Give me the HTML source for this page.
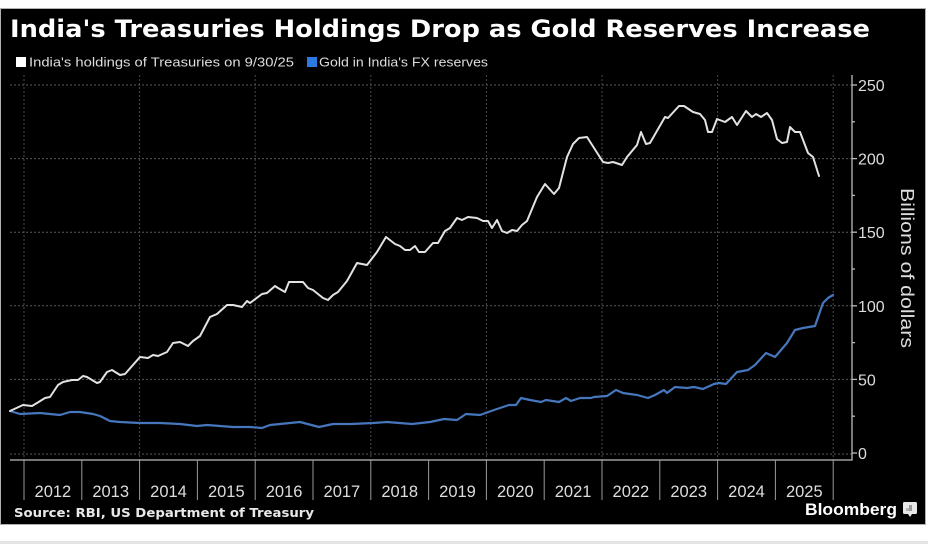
<!DOCTYPE html>
<html>
<head>
<meta charset="utf-8">
<style>
html,body{margin:0;padding:0;background:#fff;}
svg{display:block;}
</style>
</head>
<body>
<svg width="945" height="544" viewBox="0 0 945 544" xmlns="http://www.w3.org/2000/svg">
  <rect x="0" y="0" width="945" height="544" fill="#ffffff"/>
  <rect x="0" y="8" width="926" height="517" fill="#b0b0b0"/>
  <rect x="1" y="9" width="924" height="515" fill="#000000"/>
  <rect x="0" y="541" width="928" height="3" fill="#e4e4e4"/>

  <!-- Title -->
  <text x="10" y="37" fill="#ffffff" font-family="'DejaVu Sans','Liberation Sans',sans-serif" font-weight="bold" font-size="24" textLength="860" lengthAdjust="spacingAndGlyphs">India's Treasuries Holdings Drop as Gold Reserves Increase</text>

  <!-- Legend -->
  <rect x="16" y="57" width="10" height="10" fill="#ffffff"/>
  <text x="29" y="66.5" fill="#dddddd" font-family="'Liberation Sans',sans-serif" font-size="13" textLength="265" lengthAdjust="spacingAndGlyphs">India's holdings of Treasuries on 9/30/25</text>
  <rect x="307" y="57" width="10" height="10" fill="#2a7ae2"/>
  <text x="319" y="66.5" fill="#dddddd" font-family="'Liberation Sans',sans-serif" font-size="13" textLength="169" lengthAdjust="spacingAndGlyphs">Gold in India's FX reserves</text>

  <!-- Horizontal dotted grid -->
  <g stroke="#5a5a5a" stroke-width="1" stroke-dasharray="2,2">
    <line x1="10" y1="85" x2="852" y2="85"/>
    <line x1="10" y1="158.6" x2="852" y2="158.6"/>
    <line x1="10" y1="232.2" x2="852" y2="232.2"/>
    <line x1="10" y1="305.8" x2="852" y2="305.8"/>
    <line x1="10" y1="379.4" x2="852" y2="379.4"/>
    <line x1="10" y1="454" x2="852" y2="454"/>
  </g>
  <!-- Vertical dotted grid -->
  <g stroke="#4a4a4a" stroke-width="1" stroke-dasharray="2,2">
    <line x1="24" y1="75" x2="24" y2="460"/>
    <line x1="139.6" y1="75" x2="139.6" y2="460"/>
    <line x1="255.2" y1="75" x2="255.2" y2="460"/>
    <line x1="370.8" y1="75" x2="370.8" y2="460"/>
    <line x1="486.4" y1="75" x2="486.4" y2="460"/>
    <line x1="602" y1="75" x2="602" y2="460"/>
    <line x1="717.6" y1="75" x2="717.6" y2="460"/>
    <line x1="833.2" y1="75" x2="833.2" y2="460"/>
  </g>

  <!-- Axes -->
  <line x1="852" y1="75" x2="852" y2="460.5" stroke="#bbbbbb" stroke-width="1.3"/>
  <line x1="10" y1="460" x2="852.5" y2="460" stroke="#bbbbbb" stroke-width="1.3"/>
  <!-- Right axis ticks -->
  <g stroke="#bbbbbb" stroke-width="1.3">
    <line x1="852" y1="85" x2="857" y2="85"/>
    <line x1="852" y1="158.6" x2="857" y2="158.6"/>
    <line x1="852" y1="232.2" x2="857" y2="232.2"/>
    <line x1="852" y1="305.8" x2="857" y2="305.8"/>
    <line x1="852" y1="379.4" x2="857" y2="379.4"/>
    <line x1="852" y1="453" x2="857" y2="453"/>
    <line x1="852" y1="121.8" x2="855" y2="121.8"/>
    <line x1="852" y1="195.4" x2="855" y2="195.4"/>
    <line x1="852" y1="269" x2="855" y2="269"/>
    <line x1="852" y1="342.6" x2="855" y2="342.6"/>
    <line x1="852" y1="416.2" x2="855" y2="416.2"/>
  </g>
  <g fill="#dddddd" font-family="'Liberation Sans',sans-serif" font-size="16">
    <text x="858" y="91">250</text>
    <text x="858" y="164.6">200</text>
    <text x="858" y="238.2">150</text>
    <text x="858" y="311.8">100</text>
    <text x="858" y="385.4">50</text>
    <text x="858" y="459">0</text>
  </g>
  <text transform="translate(901,188) rotate(90)" fill="#dddddd" font-family="'Liberation Sans',sans-serif" font-size="18" textLength="160" lengthAdjust="spacingAndGlyphs">Billions of dollars</text>

  <!-- Year separators -->
  <g stroke="#9a9a9a" stroke-width="1">
    <line x1="24" y1="460" x2="24" y2="500"/>
    <line x1="81.8" y1="460" x2="81.8" y2="500"/>
    <line x1="139.6" y1="460" x2="139.6" y2="500"/>
    <line x1="197.4" y1="460" x2="197.4" y2="500"/>
    <line x1="255.2" y1="460" x2="255.2" y2="500"/>
    <line x1="313" y1="460" x2="313" y2="500"/>
    <line x1="370.8" y1="460" x2="370.8" y2="500"/>
    <line x1="428.6" y1="460" x2="428.6" y2="500"/>
    <line x1="486.4" y1="460" x2="486.4" y2="500"/>
    <line x1="544.2" y1="460" x2="544.2" y2="500"/>
    <line x1="602" y1="460" x2="602" y2="500"/>
    <line x1="659.8" y1="460" x2="659.8" y2="500"/>
    <line x1="717.6" y1="460" x2="717.6" y2="500"/>
    <line x1="775.4" y1="460" x2="775.4" y2="500"/>
    <line x1="833.2" y1="460" x2="833.2" y2="500"/>
  </g>
  <g fill="#dddddd" font-family="'Liberation Sans',sans-serif" font-size="16.5" text-anchor="middle">
    <text x="52.9" y="497">2012</text>
    <text x="110.7" y="497">2013</text>
    <text x="168.5" y="497">2014</text>
    <text x="226.3" y="497">2015</text>
    <text x="284.1" y="497">2016</text>
    <text x="341.9" y="497">2017</text>
    <text x="399.7" y="497">2018</text>
    <text x="457.5" y="497">2019</text>
    <text x="515.3" y="497">2020</text>
    <text x="573.1" y="497">2021</text>
    <text x="630.9" y="497">2022</text>
    <text x="688.7" y="497">2023</text>
    <text x="746.5" y="497">2024</text>
    <text x="804.3" y="497">2025</text>
  </g>

  <!-- Blue series: Gold -->
  <polyline fill="none" stroke="#4677bd" stroke-width="2.2" stroke-linejoin="round" stroke-linecap="round"
    points="10,411 20,414 40,413 60,415 70,412 80,412 93,414 100,416 110,421 120,422 140,423 160,423 180,424 197,426 207,425 233,427 250,427 262,428 270,425 290,423 300,422 319,427 333,424 351,424 373,423 387,422 412,424 430,422 444,419 457,420 466,414 480,415 494,410 509,405 516,405 521,398 530,400 541,402 546,400 559,402 566,398 571,401 580,398 591,398 594,397 607,396 616,390 623,393 637,395 648,398 655,395 664,390 667,393 675,387 687,388 694,387 703,389 714,384 719,383 726,384 737,372 748,370 755,365 766,353 775,357 787,343 795,330 803,328 815,326 823,303 828,298 833,295"/>

  <!-- White series: Treasuries -->
  <polyline fill="none" stroke="#e2e2e2" stroke-width="2" stroke-linejoin="round" stroke-linecap="round"
    points="10,411 23,405 32,406 37,403 45,398 50,397 58,385 63,382 72,380 78,380 83,376 87,377 97,383 100,382 107,372 112,370 120,375 125,374 140,357 148,358 153,355 158,356 167,352 173,343 180,342 188,346 193,341 200,336 210,317 217,314 227,305 233,305 242,307 247,301 250,303 262,294 267,293 275,286 278,288 285,292 289,282 303,282 308,288 313,290 323,298 328,300 333,295 338,292 347,281 357,263 367,265 377,252 380,247 386,237 395,244 400,246 405,250 410,250 415,246 419,252 425,252 433,243 438,243 445,231 450,228 457,218 462,220 468,217 477,218 483,221 488,221 492,228 497,220 502,231 507,233 512,230 517,231 522,225 527,221 537,197 545,184 554,194 559,188 567,157 573,144 579,138 587,137 603,162 608,163 613,162 622,165 627,157 637,145 641,132 646,144 650,143 665,117 668,118 679,106 684,106 693,112 700,114 705,120 708,132 712,132 717,119 725,122 732,117 737,125 746,111 752,117 756,114 761,117 767,113 772,120 777,139 782,143 787,142 790,127 795,132 800,132 808,153 813,157 819,176"/>

  <!-- Source -->
  <text x="14" y="517" fill="#e8e8e8" font-family="'DejaVu Sans','Liberation Sans',sans-serif" font-weight="bold" font-size="12" textLength="300" lengthAdjust="spacingAndGlyphs">Source: RBI, US Department of Treasury</text>

  <!-- Bloomberg -->
  <text x="805" y="515" fill="#ffffff" font-family="'Liberation Sans',sans-serif" font-weight="bold" font-size="17" textLength="92" lengthAdjust="spacingAndGlyphs">Bloomberg</text>
  <g>
    <rect x="903" y="502" width="14" height="12" rx="1.5" fill="#e8e8e8"/>
    <polygon points="908,514 912,514 910,517" fill="#e8e8e8"/>
    <rect x="909" y="505" width="3" height="6" fill="#9a9a9a"/>
    <rect x="906" y="508" width="3" height="3" fill="#b5b5b5"/>
  </g>
</svg>
</body>
</html>
